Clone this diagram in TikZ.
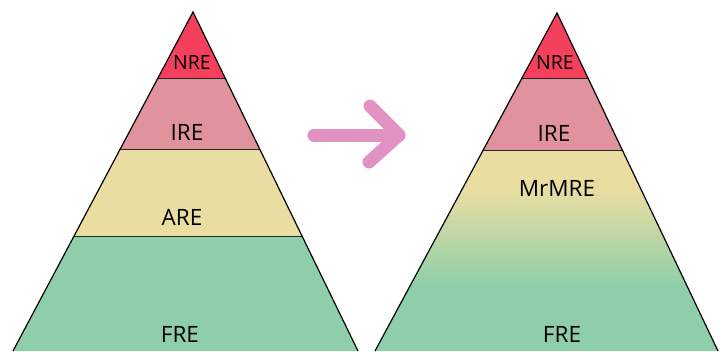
\documentclass[tikz,border=0pt]{standalone}
\usepackage{fontspec}
\setmainfont{Open Sans}
\usepackage{tikz}
\usetikzlibrary{calc,positioning}

\definecolor{nrecol}{HTML}{F4405C}
\definecolor{irecol}{HTML}{E1939D}
\definecolor{arecol}{HTML}{E9DDA2}
\definecolor{frecol}{HTML}{8ECFA9}
\definecolor{arrowcol}{HTML}{E291C3}

\begin{document}
\begin{tikzpicture}[x=1pt,y=-1pt,
        layer/.style={font=\fontsize{22.5}{26}\selectfont,text=black,inner sep=0pt},
        toplayer/.style={layer,font=\fontsize{19.5}{22}\selectfont},
        edge/.style={line width=1.2pt,line join=miter},
        sep/.style={line width=0.9pt,black!85},
        pink/.style={line width=13pt,arrowcol,line cap=round,line join=round}]

        \useasboundingbox (0,0) rectangle (720,351);

        % Left pyramid
        \coordinate (la) at (193,12);
        \coordinate (ll) at (13,351);
        \coordinate (lr) at (358,351);
        \begin{scope}
          \clip (la) -- (ll) -- (lr) -- cycle;
          \fill[nrecol] (0,0) rectangle (720,78);
          \fill[irecol] (0,78) rectangle (720,149);
          \fill[arecol] (0,149) rectangle (720,236);
          \fill[frecol] (0,236) rectangle (720,351);
          \draw[sep] (0,78) -- (720,78);
          \draw[sep] (0,149) -- (720,149);
          \draw[sep] (0,236) -- (720,236);
        \end{scope}
        \draw[edge] (ll) -- (la) -- (lr);

        \node[toplayer] (nre1) at (192,63) {NRE};
        \node[layer] (ire1) at (187,132) {IRE};
        \node[layer] (are1) at (182,217) {ARE};
        \node[layer] (fre1) at (180,334) {FRE};

        % Right pyramid
        \coordinate (ra) at (557,13);
        \coordinate (rl) at (375,351);
        \coordinate (rr) at (718,351);
        \begin{scope}
          \clip (ra) -- (rl) -- (rr) -- cycle;
          \fill[nrecol] (0,0) rectangle (720,78);
          \fill[irecol] (0,78) rectangle (720,150);
          \fill[arecol] (0,150) rectangle (720,191);
          \shade[top color=arecol,bottom color=frecol] (0,190) rectangle (720,286);
          \fill[frecol] (0,285) rectangle (720,351);
          \draw[sep] (0,78) -- (720,78);
          \draw[sep] (0,150) -- (720,150);
        \end{scope}
        \draw[edge] (rl) -- (ra) -- (rr);

        \node[toplayer] (nre2) at (555,63) {NRE};
        \node[layer] (ire2) at (554,133) {IRE};
        \node[layer] (mrmre) at (557,188) {MrMRE};
        \node[layer] (fre2) at (562,334) {FRE};

        % Arrow
        \coordinate (tail) at (314,135);
        \coordinate (tip) at (399,135);
        \draw[pink] (tail) -- (tip);
        \draw[pink] (370,106) -- (tip) -- (369,162);

\end{tikzpicture}
\end{document}
